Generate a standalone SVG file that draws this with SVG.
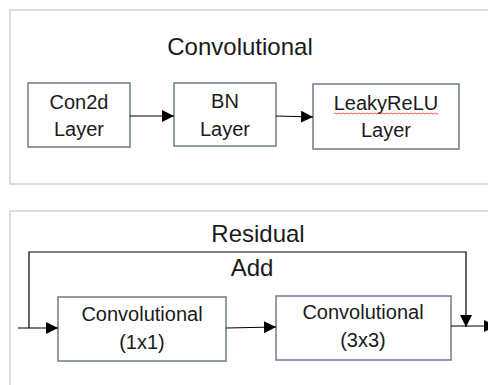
<svg xmlns="http://www.w3.org/2000/svg" width="488" height="385" viewBox="0 0 488 385">
  <style>
    .panel { fill: #ffffff; stroke: #d4d4d4; stroke-width: 1.5; }
    .node rect { fill: #ffffff; stroke: #6d7b8d; stroke-width: 1.5; }
    text { font-family: "Liberation Sans", Arial, sans-serif; fill: #1a1a1a; text-anchor: middle; }
    .label { font-size: 20px; }
    .title { font-size: 24px; }
    .edge { fill: none; stroke: #000000; stroke-width: 1.2; }
    .spell { fill: none; stroke: #e03030; stroke-width: 0.8; }
  </style>
  <defs>
    <marker id="arrow" viewBox="0 0 12 12" refX="12" refY="6" markerWidth="12" markerHeight="12" markerUnits="userSpaceOnUse" orient="auto">
      <path d="M0,0 L12,6 L0,12 Z" fill="#000000"/>
    </marker>
  </defs>

  <rect width="488" height="385" fill="#ffffff"/>

  <!-- Convolutional block panel -->
  <rect class="panel" x="10" y="10" width="490" height="174"/>
  <text class="title" x="240" y="55">Convolutional</text>

  <!-- Residual block panel -->
  <rect class="panel" x="10" y="211" width="490" height="190"/>
  <text class="title" x="258" y="242">Residual</text>
  <text class="title" x="252" y="276">Add</text>

  <g id="con2d" class="node">
    <rect x="28" y="83" width="102" height="64"/>
    <text class="label" x="79" y="109">Con2d</text>
    <text class="label" x="79" y="136">Layer</text>
  </g>

  <g id="bn" class="node">
    <rect x="174" y="83" width="102" height="63"/>
    <text class="label" x="225" y="108">BN</text>
    <text class="label" x="225" y="136">Layer</text>
  </g>

  <g id="leakyrelu" class="node">
    <rect x="313" y="84" width="146" height="65"/>
    <text class="label" x="386" y="110">LeakyReLU</text>
    <path class="spell" d="M334,113.5 q1,-1 2,0 t2,0 t2,0 t2,0 t2,0 t2,0 t2,0 t2,0 t2,0 t2,0 t2,0 t2,0 t2,0 t2,0 t2,0 t2,0 t2,0 t2,0 t2,0 t2,0 t2,0 t2,0 t2,0 t2,0 t2,0 t2,0 t2,0 t2,0 t2,0 t2,0 t2,0 t2,0 t2,0 t2,0 t2,0 t2,0 t2,0 t2,0 t2,0 t2,0 t2,0 t2,0 t2,0 t2,0 t2,0 t2,0 t2,0 t2,0 t2,0 t2,0 t2,0 t2,0"/>
    <text class="label" x="386" y="137">Layer</text>
  </g>

  <g id="conv1x1" class="node">
    <rect x="58" y="297" width="168" height="64"/>
    <text class="label" x="142" y="321">Convolutional</text>
    <text class="label" x="142" y="349">(1x1)</text>
  </g>

  <g id="conv3x3" class="node">
    <rect x="276" y="296" width="175" height="64"/>
    <text class="label" x="363" y="319">Convolutional</text>
    <text class="label" x="363" y="347">(3x3)</text>
  </g>

  <g id="connectors">
    <path class="edge" d="M130,116 L174,116" marker-end="url(#arrow)"/>
    <path class="edge" d="M276,116 L313,117" marker-end="url(#arrow)"/>
    <path class="edge" d="M18,328 L58,328" marker-end="url(#arrow)"/>
    <path class="edge" d="M226,328 L276,327" marker-end="url(#arrow)"/>
    <path class="edge" d="M29,328 L29,252 L466,252 L466,327" marker-end="url(#arrow)"/>
    <path class="edge" d="M451,326 L496,326" marker-end="url(#arrow)"/>
  </g>
</svg>
